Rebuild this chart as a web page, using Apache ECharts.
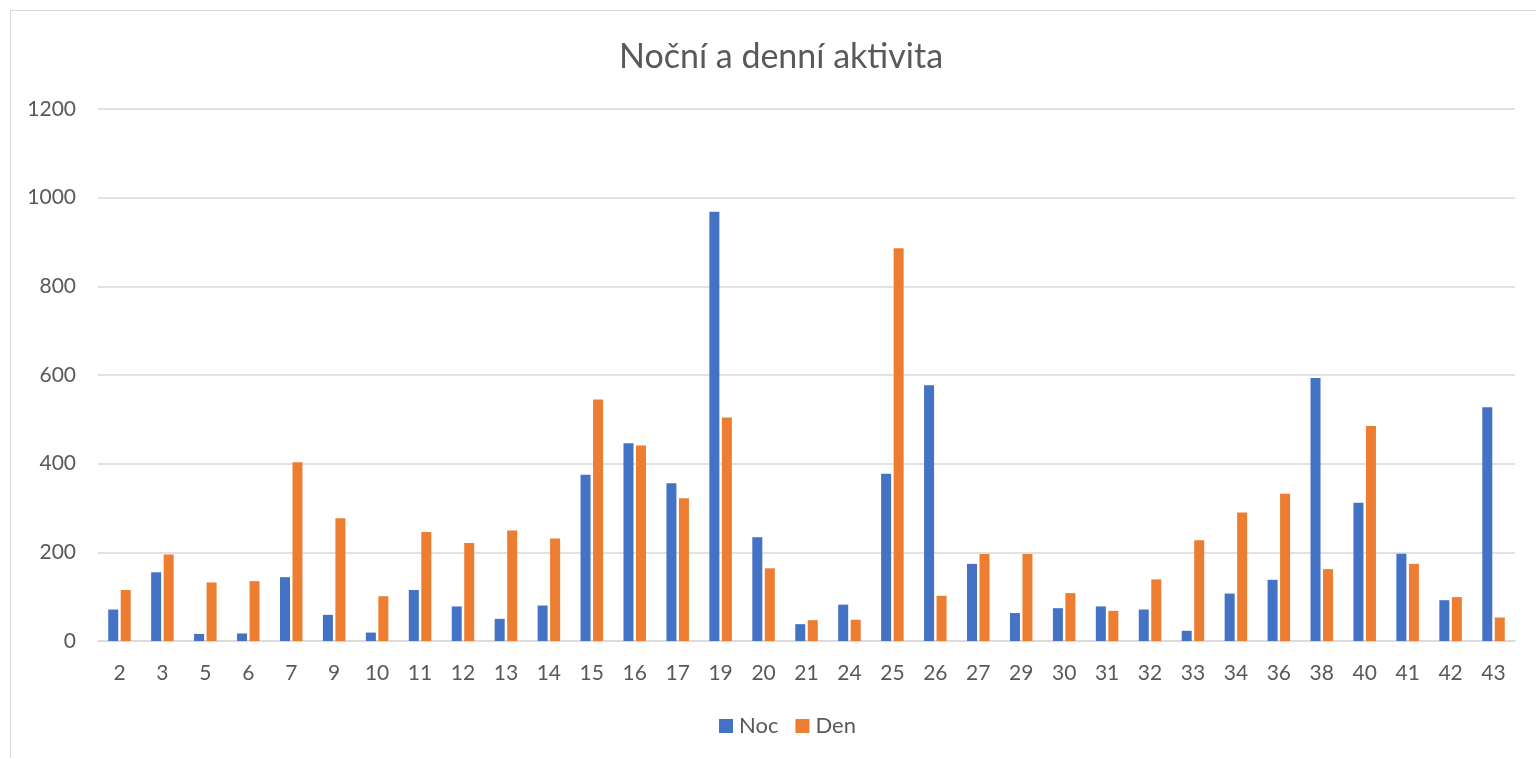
<!DOCTYPE html>
<html>
<head>
<meta charset="utf-8">
<script src="https://cdn.jsdelivr.net/npm/echarts@6/dist/echarts.min.js"></script>
<style>
  html, body {margin:0; padding:0; background:#fff;}
  #main {width:1536px; height:758px;}
</style>
</head>
<body>
<div id="main"></div>
<script>
var app = echarts.init(document.getElementById('main'));

// kategorie (cislo lokality)
var categories = ['2','3','5','6','7','9','10','11','12','13','14','15','16','17','19','20','21','24','25','26','27','29','30','31','32','33','34','36','38','40','41','42','43'];
var noc = [71,155,16,17,144,59,19,115,78,50,80,375,446,356,968,234,38,82,377,577,174,63,74,78,71,23,107,138,593,312,197,92,527];
var den = [115,195,132,135,403,277,101,246,221,249,231,545,441,322,504,164,47,48,886,102,196,196,108,68,139,227,290,332,162,485,174,99,53];
var yTicks = [0,200,400,600,800,1000,1200];

var txt = '#595959';
var fnt = 'Lato';

option = {
    animation: false,
    textStyle: {fontFamily: fnt},
    graphic: [{
        type: 'rect',
        shape: {x: 10.5, y: 10.5, width: 1600, height: 800},
        style: {fill: 'none', stroke: '#d9d9d9', lineWidth: 1},
        silent: true
    }],
    title: {
        text: 'Noční a denní aktivita',
        left: 614,
        top: 35,
        textStyle: {fontFamily: fnt, fontSize: 34, fontWeight: 'normal', color: txt}
    },
    legend: {
        bottom: 16,
        left: 714,
        itemWidth: 14,
        itemHeight: 14,
        itemGap: 17,
        icon: 'rect',
        textStyle: {fontFamily: fnt, fontSize: 22, color: txt, padding: [0, 0, 0, 1]},
        data: ['Noc', 'Den']
    },
    grid: {left: 98, right: 21, top: 109, bottom: 117},
    xAxis: {
        type: 'category',
        data: categories,
        axisTick: {show: false},
        axisLine: {lineStyle: {color: '#d9d9d9', width: 1.5}},
        axisLabel: {fontFamily: fnt, fontSize: 21, color: txt, margin: 22, interval: 0}
    },
    yAxis: {
        type: 'value',
        min: yTicks[0],
        max: yTicks[yTicks.length - 1],
        interval: 200,
        axisLine: {show: false},
        axisTick: {show: false},
        splitLine: {lineStyle: {color: '#d9d9d9', width: 1.5}},
        axisLabel: {fontFamily: fnt, fontSize: 21, color: txt, margin: 22,
                    formatter: function (v) { return String(v); }}
    },
    series: [
        {name: 'Noc', type: 'bar', data: noc, barWidth: 10, barGap: '25%',
         itemStyle: {color: '#4472C4'}},
        {name: 'Den', type: 'bar', data: den, barWidth: 10, barGap: '25%',
         itemStyle: {color: '#ED7D31'}}
    ]
};

app.setOption(option);
</script>
</body>
</html>
